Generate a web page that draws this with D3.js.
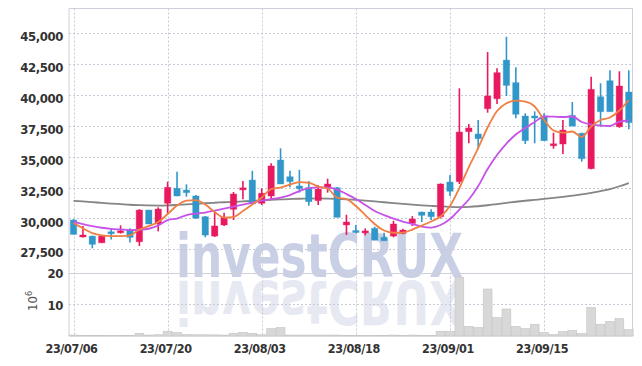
<!DOCTYPE html>
<html><head><meta charset="utf-8">
<script src="https://cdn.jsdelivr.net/npm/d3@7/dist/d3.min.js"></script>
<style>html,body{margin:0;padding:0;background:#fff}svg{display:block}</style>
</head><body>
<svg id="chart" width="642" height="366"></svg>
<script>
// ---------- data ----------
const dates = ["23/07/06","23/07/07","23/07/10","23/07/11","23/07/12","23/07/13","23/07/14","23/07/17","23/07/18","23/07/19",
"23/07/20","23/07/21","23/07/24","23/07/25","23/07/26","23/07/27","23/07/28","23/07/31","23/08/01","23/08/02",
"23/08/03","23/08/04","23/08/07","23/08/08","23/08/09","23/08/10","23/08/11","23/08/14","23/08/16","23/08/17",
"23/08/18","23/08/21","23/08/22","23/08/23","23/08/24","23/08/25","23/08/28","23/08/29","23/08/30","23/08/31",
"23/09/01","23/09/04","23/09/05","23/09/06","23/09/07","23/09/08","23/09/11","23/09/12","23/09/13","23/09/14",
"23/09/15","23/09/18","23/09/19","23/09/20","23/09/21","23/09/22","23/09/25","23/09/26","23/09/27","23/10/04"];
const openP  = [29870,28500,28570,28030,28920,28840,29060,28110,30680,29550,31230,32440,32300,31820,30140,28570,29470,30740,32450,33110,
31230,31820,34730,33380,32630,32490,31440,32520,32490,29470,29020,28950,29200,28470,28570,28790,29600,30520,30520,30140,
32950,32980,37030,36840,38890,39700,42830,41000,38300,38300,38300,36000,36030,38350,36900,34030,39860,41160,37430,40240];
const highP  = [29950,29390,28600,28600,29200,29440,29200,30750,30700,30900,32980,33790,32760,31900,30200,30550,30460,32140,33030,33860,
32440,34470,35680,33860,33940,33030,32700,33220,32550,30300,29470,29200,29330,28840,29810,29170,30190,30550,30750,32840,
33510,40540,37650,37980,43480,42160,44720,42240,38520,38680,38520,36950,37980,39430,36950,41480,40950,42000,41920,42000];
const lowP   = [28700,28450,27580,28000,28300,28780,28060,27770,29540,28950,30410,31800,31760,29950,28470,28500,29390,29870,31550,31170,
31090,31490,32790,32520,32090,31030,31090,32090,30090,28660,28790,28630,28250,28190,28470,28710,29390,29710,29870,30000,
31820,32790,36090,35600,38570,39270,39920,38110,36030,36090,36300,35650,35220,37480,34600,33990,37430,38650,37350,37220];
const closeP = [28710,28660,27900,28570,28880,29000,28470,30680,29550,30760,32520,31820,32090,30030,28650,29390,30090,31980,32480,31170,
32040,34250,32790,32980,32410,31360,32380,32790,30090,29710,28950,28990,28250,28190,29550,29060,29950,30250,30140,32790,
32200,37000,37330,36460,39920,41810,40780,38440,36300,38250,36300,36050,37160,37480,34840,40460,38650,38650,40730,37760];
const volumeM = [0.3,0.15,0.2,0.2,0.2,0.2,0.2,0.85,0.3,0.4,1.5,1.05,0.45,0.4,0.4,0.35,0.3,0.85,1.15,0.85,
0.4,2.3,2.65,0.3,0.3,0.3,0.3,0.3,0.3,0.2,0.15,0.1,0.1,0.15,0.3,0.1,0.3,0.1,0.15,1.5,
1.5,18.5,3.0,2.65,14.8,5.8,8.5,3.0,2.3,3.7,1.1,0.45,1.4,1.7,0.75,9.0,3.7,4.6,5.5,2.0];
const maShort = [29627,29198,28817,28630,28574,28574,28630,29100,29384,29708,30356,31045,31450,31491,31126,30519,30073,30113,30600,31126,
31694,32382,32504,32747,32950,32893,32585,32423,31694,31572,31005,30275,29546,29019,28841,28857,29100,29424,29749,30154,
31005,32463,34165,35705,37366,38704,39328,39538,39473,39068,37974,37123,36945,37042,36596,37447,37974,38177,38744,39595];
const maMid = [29749,29546,29384,29246,29157,29108,29060,29084,29165,29424,29870,29992,30275,30397,30478,30640,30802,30964,31126,31288,
31450,31572,31694,31896,32220,32463,32520,32504,32342,31977,31572,31086,30600,30275,29992,29749,29546,29343,29262,29465,
29951,30721,31532,32626,34003,35138,36070,36799,37326,37812,38258,38242,38217,38258,37812,37609,37528,37488,37853,37934];
const maLong = [31426,31378,31321,31264,31207,31159,31110,31078,31053,31045,31061,31094,31134,31183,31232,31272,31313,31345,31386,31426,
31467,31507,31540,31572,31596,31613,31621,31613,31588,31548,31499,31442,31378,31313,31248,31183,31118,31061,31013,30972,
30940,30924,30940,30989,31070,31167,31264,31353,31434,31507,31580,31661,31750,31848,31953,32074,32220,32382,32609,32869];
const xTickLabels = ["23/07/06","23/07/20","23/08/03","23/08/18","23/09/01","23/09/15"];
const priceTicks = [27500,30000,32500,35000,37500,40000,42500,45000];
const volumeTicks = [10,20];

// ---------- layout ----------
const L = 69, R = 632.5, T = 8.5, PB = 270, VT = 272.5, VB = 336;
const svg = d3.select("#chart");
const x = d3.scaleBand().domain(dates).range([L - 0.2, R + 1]).padding(0);
const xc = d => x(d) + x.bandwidth() / 2;
const y = d3.scaleLinear().domain([25823, 47009]).range([PB, T]);
const yv = d3.scaleLinear().domain([0, 20]).range([VB, VT]);
const UP = "#e8195f", DOWN = "#3197c9";
const gridC = "#c8cad8", axisC = "#cfd0da";
const font = "'DejaVu Sans Condensed','DejaVu Sans',sans-serif";

// watermark (behind)
const clip = svg.append("defs").append("clipPath").attr("id", "refl");
clip.append("rect").attr("x", 0).attr("y", 280).attr("width", 642).attr("height", 60);
const wm = svg.append("g");
wm.append("text").attr("x", 176).attr("y", 277)
  .attr("textLength", 287).attr("lengthAdjust", "spacingAndGlyphs")
  .attr("font-family", font).attr("font-weight", "bold").attr("font-size", 60)
  .attr("fill", "#c9d0e5").text("investCRUX");
wm.append("g").attr("clip-path", "url(#refl)").append("text").attr("x", 176).attr("y", 277)
  .attr("transform", "translate(0,558) scale(1,-1)")
  .attr("textLength", 287).attr("lengthAdjust", "spacingAndGlyphs")
  .attr("font-family", font).attr("font-weight", "bold").attr("font-size", 60)
  .attr("fill", "#e6e9f1").text("investCRUX");

// grid
const g = svg.append("g");
g.selectAll(".hg").data(priceTicks).join("line")
  .attr("x1", L).attr("x2", R).attr("y1", d => Math.round(y(d)) + 0.5).attr("y2", d => Math.round(y(d)) + 0.5)
  .attr("stroke", gridC).attr("stroke-dasharray", "2,2");
g.selectAll(".vg").data(volumeTicks.slice(0, 1)).join("line")
  .attr("x1", L).attr("x2", R).attr("y1", d => Math.round(yv(d)) + 0.5).attr("y2", d => Math.round(yv(d)) + 0.5)
  .attr("stroke", gridC).attr("stroke-dasharray", "2,2");
g.selectAll(".xg").data(xTickLabels).join("line")
  .attr("x1", d => Math.round(xc(d)) + 0.5).attr("x2", d => Math.round(xc(d)) + 0.5)
  .attr("y1", T).attr("y2", VB)
  .attr("stroke", gridC).attr("stroke-dasharray", "2,2");

// frame
const fr = svg.append("g").attr("stroke", axisC).attr("fill", "none");
fr.append("line").attr("x1", L).attr("x2", L).attr("y1", T).attr("y2", VB);
fr.append("line").attr("x1", R).attr("x2", R).attr("y1", T).attr("y2", VB);
fr.append("line").attr("x1", L).attr("x2", R).attr("y1", T).attr("y2", T);
fr.append("line").attr("x1", L).attr("x2", R).attr("y1", Math.round(yv(20)) + 0.5).attr("y2", Math.round(yv(20)) + 0.5);
fr.append("line").attr("x1", L).attr("x2", R).attr("y1", VB).attr("y2", VB);

// volume bars
svg.append("g").selectAll("rect").data(dates).join("rect")
  .attr("x", d => x(d) + 0.3).attr("width", x.bandwidth() - 0.6)
  .attr("y", (d, i) => yv(volumeM[i])).attr("height", (d, i) => VB - yv(volumeM[i]))
  .attr("fill", "#d8d8d8").attr("stroke", "#c4c4c4").attr("stroke-width", 0.6);

// moving averages
const lineOf = arr => d3.line().x((d, i) => xc(dates[i])).y(d => y(d)).curve(d3.curveMonotoneX)(arr);
svg.append("path").attr("d", lineOf(maLong)).attr("fill", "none").attr("stroke", "#858585").attr("stroke-width", 1.8);

// candles
const cg = svg.append("g");
dates.forEach((d, i) => {
  const o = openP[i], c = closeP[i], col = c >= o ? UP : DOWN;
  cg.append("line").attr("x1", xc(d)).attr("x2", xc(d)).attr("y1", y(highP[i])).attr("y2", y(lowP[i]))
    .attr("stroke", col).attr("stroke-width", 1.6);
  const top = y(Math.max(o, c)), h = Math.max(2, Math.abs(y(o) - y(c)));
  cg.append("rect").attr("x", xc(d) - 3.2).attr("width", 6.4).attr("y", top).attr("height", h)
    .attr("fill", col).attr("stroke", col).attr("stroke-opacity", 0.35).attr("stroke-width", 1);
});

svg.append("path").attr("d", lineOf(maMid)).attr("fill", "none").attr("stroke", "#c652e8").attr("stroke-width", 1.8);
svg.append("path").attr("d", lineOf(maShort)).attr("fill", "none").attr("stroke", "#ef7f43").attr("stroke-width", 1.8);

// axes labels
const lab = svg.append("g").attr("font-family", font).attr("font-weight", "bold").attr("fill", "#333")
  .attr("letter-spacing", "-0.4px");
lab.selectAll(".py").data(priceTicks).join("text")
  .attr("x", 63).attr("y", d => y(d)).attr("dy", "0.62em").attr("text-anchor", "end").attr("font-size", 13)
  .text(d => d3.format(",")(d));
lab.selectAll(".vy").data(volumeTicks).join("text")
  .attr("x", 63).attr("y", d => yv(d)).attr("dy", "0.45em").attr("text-anchor", "end").attr("font-size", 13)
  .text(d => d);
lab.selectAll(".xl").data(xTickLabels).join("text")
  .attr("x", d => xc(d) - 2).attr("y", 353).attr("text-anchor", "middle").attr("font-size", 12.5)
  .text(d => d);
const u = svg.append("text").attr("transform", "translate(37,311) rotate(-90)")
  .attr("font-family", font).attr("font-size", 13).attr("fill", "#555");
u.append("tspan").text("10");
u.append("tspan").attr("dy", -5).attr("font-size", 9).text("6");
</script>
</body></html>
